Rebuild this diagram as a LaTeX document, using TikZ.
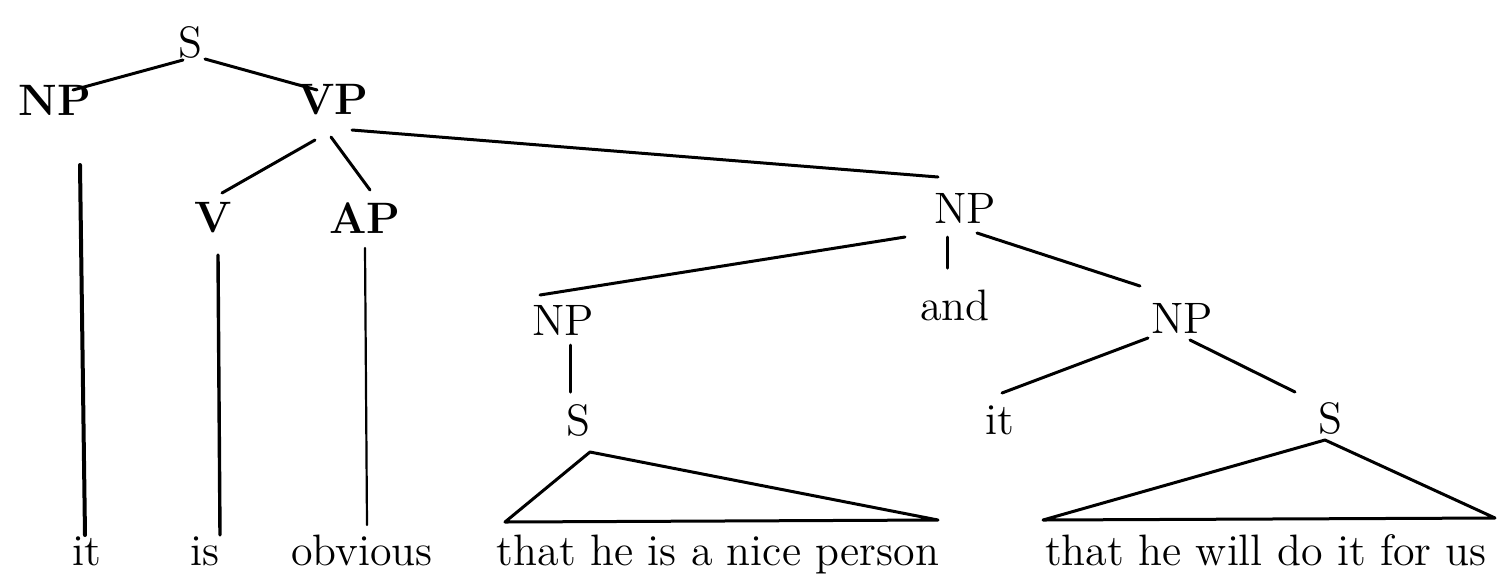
\documentclass[tikz,border=0pt]{standalone}
\usetikzlibrary{calc}
\begin{document}
\begin{tikzpicture}[x=0.25pt,y=-0.25pt,
  lab/.style={inner sep=0pt, font=\fontsize{11}{13}\selectfont},
  blab/.style={inner sep=0pt, font=\fontsize{11}{13}\selectfont\bfseries},
  word/.style={lab, anchor=base},
  br/.style={line width=0.75pt, line cap=round}]
\useasboundingbox (0,0) rectangle (1498,580);
% labels
\node[lab]  (S)   at (190,42)  {S};
\node[blab] (NPa) at (55,100)  {NP};
\node[blab] (VP)  at (333,100) {VP};
\node[blab] (V)   at (213,218) {V};
\node[blab] (AP)  at (365,218) {AP};
\node[lab]  (NPc) at (965,208) {NP};
\node[lab]  (NPb) at (563,320) {NP};
\node[lab]  (and) at (955,305) {and};
\node[lab]  (NPd) at (1182,318) {NP};
\node[lab]  (S1)  at (578,420) {S};
\node[lab]  (it2) at (1000,420) {it};
\node[lab]  (S2)  at (1330,418) {S};
% words
\node[word] (it1) at (87,565)   {it};
\node[word] (is)  at (205,565)  {is};
\node[word] (obv) at (362,565)  {obvious};
\node[word] (T1)  at (718,565)  {that he is a nice person};
\node[word] (T2)  at (1266,565) {that he will do it for us};
% branches
\draw[br] ($(S)+(-7,18)$) -- ($(NPa)+(18,-10)$);
\draw[br] ($(S)+(15,17)$) -- ($(VP)+(-16,-10)$);
\draw[br] ($(VP)+(-18,40)$) -- ($(V)+(9,-25)$);
\draw[br] ($(VP)+(-2,37)$) -- ($(AP)+(5,-28)$);
\draw[br] ($(VP)+(19,30)$) -- ($(NPc)+(-27,-31)$);
\draw[br] ($(NPc)+(-60,29)$) -- ($(NPb)+(-23,-25)$);
\draw[br] ($(NPc)+(-18,29)$) -- ($(and)+(-8,-37)$);
\draw[br] ($(NPc)+(12,25)$) -- ($(NPd)+(-42,-32)$);
\draw[br] ($(NPb)+(7,25)$) -- ($(S1)+(-8,-28)$);
\draw[br] ($(NPd)+(-34,20)$) -- ($(it2)+(2,-27)$);
\draw[br] ($(NPd)+(8,22)$) -- ($(S2)+(-35,-26)$);
% verticals
\draw[br, line width=1pt] ($(NPa)+(25,65)$) -- ($(it1.base)+(-2,-30)$);
\draw[br, line width=0.85pt] ($(V)+(5,37)$) -- ($(is.base)+(15,-30)$);
\draw[br, line width=0.55pt] ($(AP)+(0,30)$) -- ($(obv.base)+(5,-40)$);
% triangles
\draw[br, line join=round] ($(S1)+(12,32)$) -- ($(T1.base)+(-213,-43)$) -- ($(T1.base)+(220,-45)$) -- cycle;
\draw[br, line join=round] ($(S2)+(-5,22)$) -- ($(T2.base)+(-223,-45)$) -- ($(T2.base)+(229,-47)$) -- cycle;
\end{tikzpicture}
\end{document}
